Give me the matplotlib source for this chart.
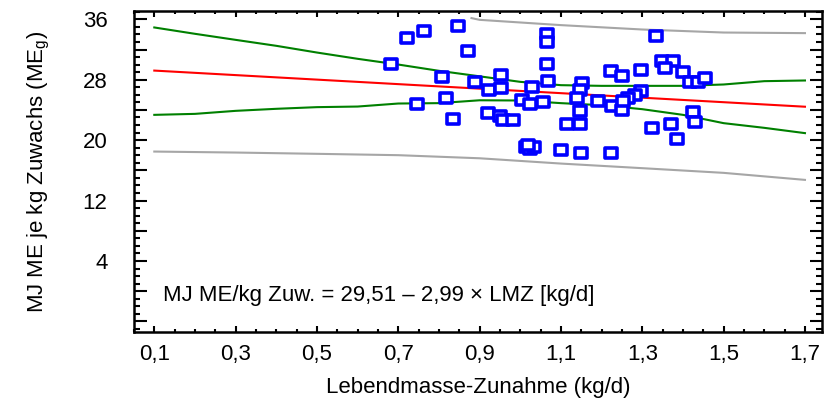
# energy per kg live weight gain vs. daily gain, with regression line,
# confidence band (green) and prediction band (grey)

import numpy as np
import matplotlib
matplotlib.use("Agg")
import matplotlib.pyplot as plt
from matplotlib.path import Path
from matplotlib.ticker import FixedLocator, FuncFormatter, MultipleLocator

plt.rcParams['font.family'] = ['Liberation Sans', 'DejaVu Sans']
plt.rcParams['mathtext.default'] = 'regular'

# observations: daily gain (kg/d) and MJ ME per kg gain
lmz = [0.682, 0.722, 0.763, 0.848, 0.871, 0.808, 0.888, 0.952, 0.924, 0.952,
       0.745, 0.817, 0.834, 0.920, 0.950, 0.958, 0.981, 1.065, 1.065, 1.065,
       1.069, 1.028, 1.003, 1.024, 1.056, 1.151, 1.147, 1.139, 1.147, 1.114,
       1.147, 1.192, 1.223, 1.225, 1.014, 1.024, 1.034, 1.019, 1.100, 1.149,
       1.223, 1.334, 1.249, 1.298, 1.348, 1.375, 1.356, 1.401, 1.417, 1.438,
       1.453, 1.298, 1.282, 1.266, 1.249, 1.253, 1.325, 1.370, 1.385, 1.424,
       1.430]
me_g = [30.10, 33.46, 34.44, 35.14, 31.74, 28.42, 27.76, 28.65, 26.66, 26.89,
        24.85, 25.60, 22.86, 23.58, 23.18, 22.73, 22.69, 33.99, 32.98, 30.10,
        27.81, 27.02, 25.38, 24.81, 25.03, 27.58, 26.70, 25.60, 23.92, 22.16,
        22.16, 25.16, 29.22, 24.50, 19.03, 18.77, 19.10, 19.40, 18.76, 18.32,
        18.32, 33.77, 28.48, 29.35, 30.46, 30.46, 29.58, 29.05, 27.72, 27.72,
        28.25, 26.57, 26.04, 25.60, 24.05, 25.16, 21.63, 22.16, 20.17, 23.71,
        22.38]

# regression coefficients
b0 = 29.51
b1 = -2.99
x_fit = [0.1, 1.7]

# confidence band
x_ci = [0.1, 0.2, 0.3, 0.4, 0.5, 0.6, 0.7, 0.8, 0.9, 1.0, 1.1, 1.2, 1.3,
        1.4, 1.5, 1.6, 1.7]
ci_upper = [34.92, 34.08, 33.28, 32.49, 31.60, 30.77, 30.01, 29.18, 28.45,
            27.72, 27.28, 27.19, 27.19, 27.19, 27.37, 27.81, 27.90]
ci_lower = [23.35, 23.48, 23.88, 24.15, 24.37, 24.45, 24.85, 24.90, 25.28,
            25.25, 24.90, 24.63, 24.10, 23.35, 22.25, 21.63, 20.93]

# prediction band
x_pl = [0.1, 0.3, 0.5, 0.7, 0.9, 1.1, 1.3, 1.5, 1.7]
pi_lower = [18.49, 18.36, 18.19, 18.01, 17.60, 16.90, 16.29, 15.67, 14.74]
x_pu = [0.88, 0.9, 1.1, 1.3, 1.5, 1.7]
pi_upper = [36.16, 35.93, 35.23, 34.65, 34.25, 34.17]

x_ticks = [0.1, 0.3, 0.5, 0.7, 0.9, 1.1, 1.3, 1.5, 1.7]
y_ticks = [-4, 0, 4, 8, 12, 16, 20, 24, 28, 32, 36]
y_labelled = [4, 12, 20, 28, 36]

fig = plt.figure(figsize=(8.3, 4.03), dpi=100)
ax = fig.add_axes([0.1614, 0.1762, 0.8290, 0.7965])

ax.plot(x_pl, pi_lower, color='#a6a6a6', lw=1.5)
ax.plot(x_pu, pi_upper, color='#a6a6a6', lw=1.5)
ax.plot(x_ci, ci_upper, color='#008000', lw=1.5)
ax.plot(x_ci, ci_lower, color='#008000', lw=1.5)
y_fit = [b0 + b1 * v for v in x_fit]
ax.plot(x_fit, y_fit, color='#ff0000', lw=1.5)

# flat rectangle marker
rect = Path([(-1.3, -1), (1.3, -1), (1.3, 1), (-1.3, 1), (-1.3, -1)],
            [Path.MOVETO, Path.LINETO, Path.LINETO, Path.LINETO, Path.CLOSEPOLY])
ax.plot(lmz, me_g, ls='none', marker=rect, ms=9, mfc='white',
        mec='#0000ff', mew=2.6, zorder=5)

ax.set_xlim(0.05, 1.742)
ax.set_ylim(-5.4, 37.1)

ax.xaxis.set_major_locator(FixedLocator(x_ticks))
ax.xaxis.set_minor_locator(MultipleLocator(0.05))
ax.xaxis.set_major_formatter(FuncFormatter(lambda v, p: f"{v:.1f}".replace('.', ',')))
ax.yaxis.set_major_locator(FixedLocator(y_ticks))
ax.yaxis.set_minor_locator(MultipleLocator(1))
ax.yaxis.set_major_formatter(FuncFormatter(
    lambda v, p: f"{v:.0f}" if round(v) in y_labelled else ""))

ax.tick_params(axis='both', which='both', direction='in', width=1.5,
               top=True, right=True, labelsize=16)
ax.tick_params(axis='x', which='major', length=4.5, pad=9)
ax.tick_params(axis='x', which='minor', length=2.5)
ax.tick_params(axis='y', which='major', length=9, pad=19)
ax.tick_params(axis='y', which='minor', length=4.5)
for s in ax.spines.values():
    s.set_linewidth(1.8)

ax.set_xlabel("Lebendmasse-Zunahme (kg/d)", fontsize=16, labelpad=8)
ax.set_ylabel("MJ ME je kg Zuwachs (ME$_g$)", fontsize=16, labelpad=22)

ax.text(0.042, 0.115, "MJ ME/kg Zuw. = 29,51 \u2013 2,99 \u00d7 LMZ [kg/d]",
        transform=ax.transAxes, fontsize=16, va='center', ha='left')

fig.savefig("out.png", dpi=100)
